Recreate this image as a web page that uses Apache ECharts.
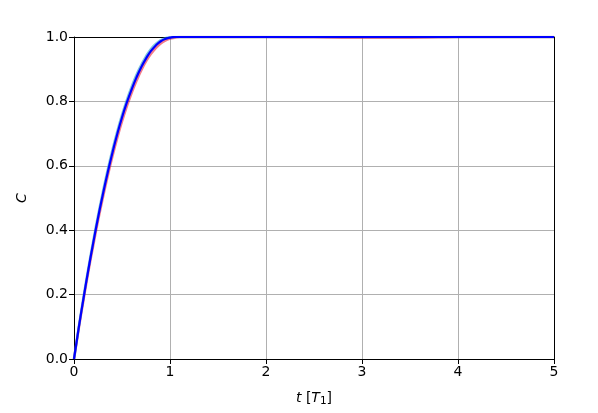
<!DOCTYPE html>
<html>
<head>
<meta charset="utf-8">
<script src="https://cdn.jsdelivr.net/npm/echarts@6/dist/echarts.min.js"></script>
<style>
  html, body { margin: 0; padding: 0; background: #fff; }
  #chart { width: 598px; height: 413px; }
</style>
</head>
<body>
<div id="chart"></div>
<script>
// time axis, in units of T1
var tValues = [0, 0.05, 0.1, 0.15, 0.2, 0.25, 0.3, 0.35, 0.4, 0.45, 0.5, 0.55, 0.6, 0.65, 0.7, 0.75, 0.8, 0.85, 0.9, 0.95, 1.0, 1.05, 1.1, 1.2, 1.5, 2.0, 2.5, 2.8, 3.0, 3.5, 3.8, 4.0, 4.5, 5.0];
// blue curve (on top)
var cBlue = [0, 0.098, 0.19, 0.278, 0.36, 0.438, 0.51, 0.578, 0.64, 0.698, 0.75, 0.796, 0.837, 0.874, 0.906, 0.933, 0.956, 0.973, 0.986, 0.994, 0.998, 1.0, 1.0, 1.0, 1.0, 1.0, 1.0, 1.0, 1.0, 1.0, 1.0, 1.0, 1.0, 1.0];
// red curve (a little behind)
var cRed = [0, 0.095, 0.185, 0.272, 0.352, 0.429, 0.5, 0.567, 0.629, 0.686, 0.738, 0.784, 0.826, 0.863, 0.896, 0.924, 0.947, 0.965, 0.979, 0.989, 0.995, 0.998, 1.0, 1.0, 1.0, 1.0, 0.999, 0.998, 0.998, 0.998, 0.999, 1.0, 1.0, 1.0];
// cyan curve (a little ahead)
var cCyan = [0, 0.1, 0.194, 0.283, 0.366, 0.445, 0.518, 0.586, 0.649, 0.706, 0.758, 0.804, 0.845, 0.882, 0.913, 0.94, 0.962, 0.978, 0.99, 0.996, 0.999, 1.0, 1.0, 1.0, 1.0, 1.0, 1.0, 1.0, 1.0, 1.0, 1.0, 1.0, 1.0, 1.0];
var xTicks = [0, 1, 2, 3, 4, 5];
var yTicks = [0, 0.2, 0.4, 0.6, 0.8, 1.0];

function pairs(ys) {
  return tValues.map(function (t, i) { return [t, ys[i]]; });
}

var chart = echarts.init(document.getElementById("chart"));
var font = "DejaVu Sans";
chart.setOption({
  animation: false,
  backgroundColor: "#fff",
  grid: { left: 74, right: 44, top: 37, bottom: 54 },
  xAxis: [
    {
      type: "value",
      min: xTicks[0],
      max: xTicks[xTicks.length - 1],
      interval: 1,
      axisLine: { lineStyle: { color: "#000", width: 1 } },
      axisTick: { length: 5, lineStyle: { color: "#000" } },
      axisLabel: { color: "#000", fontFamily: font, fontSize: 14, margin: 6 },
      splitLine: { show: true, lineStyle: { color: "#b0b0b0", width: 1 } },
      name: "{i|t} [{i|T}{s|1}]",
      nameLocation: "middle",
      nameGap: 30,
      nameTextStyle: {
        color: "#000",
        fontFamily: font,
        fontSize: 14,
        rich: {
          i: { fontStyle: "italic", fontFamily: font, fontSize: 14, color: "#000" },
          s: { fontFamily: font, fontSize: 10.5, color: "#000", verticalAlign: "bottom", padding: [7, 0, 0, 0] }
        }
      }
    },
    {
      type: "value",
      position: "top",
      min: 0, max: 5,
      axisLine: { show: true, onZero: false, lineStyle: { color: "#000", width: 1 } },
      axisTick: { show: false },
      axisLabel: { show: false },
      splitLine: { show: false }
    }
  ],
  yAxis: [
    {
      type: "value",
      min: yTicks[0],
      max: yTicks[yTicks.length - 1],
      interval: 0.2,
      axisLine: { show: true, lineStyle: { color: "#000", width: 1 } },
      axisTick: { show: true, length: 5, lineStyle: { color: "#000" } },
      axisLabel: {
        color: "#000", fontFamily: font, fontSize: 14, margin: 6,
        formatter: function (v) { return v.toFixed(1); }
      },
      splitLine: { show: true, lineStyle: { color: "#b0b0b0", width: 1 } },
      name: "C",
      nameLocation: "middle",
      nameGap: 45,
      nameRotate: 90,
      nameTextStyle: { color: "#000", fontFamily: font, fontSize: 14, fontStyle: "italic" }
    },
    {
      type: "value",
      position: "right",
      min: 0, max: 1,
      axisLine: { show: true, onZero: false, lineStyle: { color: "#000", width: 1 } },
      axisTick: { show: false },
      axisLabel: { show: false },
      splitLine: { show: false }
    }
  ],
  series: [
    {
      type: "line", data: pairs(cRed), showSymbol: false, smooth: true,
      lineStyle: { color: "#e8102a", width: 2.5, opacity: 0.55 }, z: 3
    },
    {
      type: "line", data: pairs(cCyan), showSymbol: false, smooth: true,
      lineStyle: { color: "#2aa0c8", width: 2.5, opacity: 0.6 }, z: 4
    },
    {
      type: "line", data: pairs(cBlue), showSymbol: false, smooth: true,
      lineStyle: { color: "#0000ff", width: 2.2 }, z: 5
    }
  ]
});
</script>
</body>
</html>
